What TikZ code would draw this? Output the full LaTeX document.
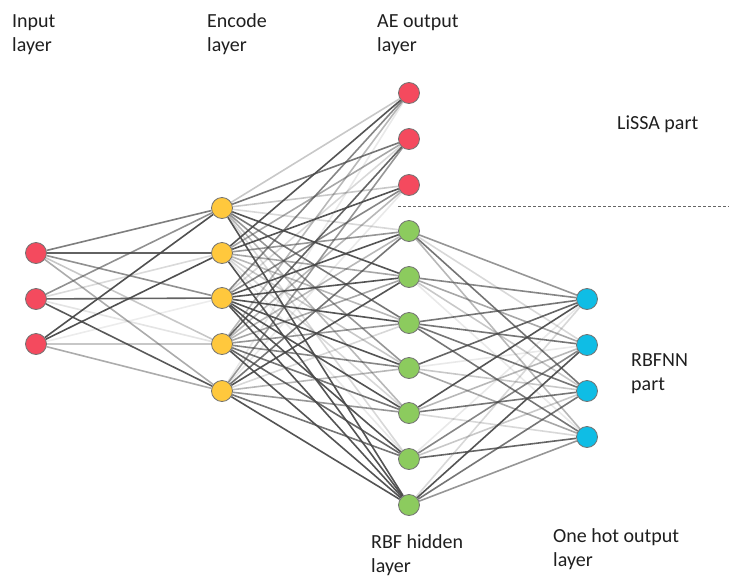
\documentclass[tikz,border=0pt]{standalone}
\usepackage{fontspec}
\setmainfont{Carlito}
\usetikzlibrary{backgrounds}
\definecolor{inred}{HTML}{F44A5E}
\definecolor{encyellow}{HTML}{FFC83D}
\definecolor{rbfgreen}{HTML}{8CCB5E}
\definecolor{hotcyan}{HTML}{0FBDE5}
\tikzset{
    neuron/.style={shape=circle, draw=black!55, line width=0.8pt, minimum size=21pt, inner sep=0pt},
    wire/.style={line width=1.6pt, draw=black!72},
    caption/.style={anchor=base west, align=left, inner sep=0pt, font=\fontsize{20}{23.5}\selectfont, text=black!88}}

\begin{document}
\begin{tikzpicture}[x=1pt, y=-1pt]
    \useasboundingbox (0,0) rectangle (729,576);

    \foreach \y [count=\i] in {253,299,344}
        \node[neuron, fill=inred] (I\i) at (36,\y) {};
    \foreach \y [count=\i] in {208,253,298,344,391}
        \node[neuron, fill=encyellow] (E\i) at (222,\y) {};
    \foreach \y [count=\i] in {93,139,185}
        \node[neuron, fill=inred] (A\i) at (409,\y) {};
    \foreach \y [count=\i] in {231,277,323,368,413,459,505}
        \node[neuron, fill=rbfgreen] (R\i) at (409,\y) {};
    \foreach \y [count=\i] in {299,345,391,437}
        \node[neuron, fill=hotcyan] (O\i) at (587,\y) {};

    \begin{scope}[on background layer]
        % input -> encode
        \foreach \a/\b/\op in {1/1/0.7, 1/2/0.85, 1/3/0.6, 1/4/0.3, 1/5/0.45,
                               2/1/0.6, 2/2/0.2, 2/3/0.85, 2/4/0.15, 2/5/0.9,
                               3/1/0.95, 3/2/0.95, 3/3/0.1, 3/4/0.3, 3/5/0.45}
            \draw[wire, draw opacity=\op] (I\a) -- (E\b);
        % encode -> AE output
        \foreach \i in {1,...,5} \foreach \j in {1,...,3} {
            \pgfmathsetmacro\op{0.12+0.09*mod(7*\i+5*\j,10)}
            \draw[wire, draw opacity=\op] (E\i) -- (A\j);
        }
        % encode -> RBF hidden
        \foreach \i in {1,...,5} \foreach \j in {1,...,7} {
            \pgfmathsetmacro\op{0.12+0.09*mod(3*\i+7*\j+\i*\j,10)}
            \draw[wire, draw opacity=\op] (E\i) -- (R\j);
        }
        % RBF hidden -> one hot output
        \foreach \i in {1,...,7} \foreach \j in {1,...,4} {
            \pgfmathsetmacro\op{0.12+0.09*mod(9*\i+4*\j+2*\i*\j,10)}
            \draw[wire, draw opacity=\op] (R\i) -- (O\j);
        }
    \end{scope}

    \coordinate (cutL) at (398,206);
    \coordinate (cutR) at (729,206);
    \draw[black!60, line width=0.9pt, dash pattern=on 3pt off 2pt] (cutL) -- (cutR);

    % base anchor sits on the last line
    \node[caption] (inlab) at (12,51) {Input\\layer};
    \node[caption] (enclab) at (207,51) {Encode\\layer};
    \node[caption] (aelab) at (377,51) {AE output\\layer};
    \node[caption] (lissa) at (617,129) {LiSSA part};
    \node[caption] (rbfnn) at (631,390) {RBFNN\\part};
    \node[caption] (hidlab) at (371,572) {RBF hidden\\layer};
    \node[caption] (hotlab) at (553,566) {One hot output\\layer};

\end{tikzpicture}
\end{document}
